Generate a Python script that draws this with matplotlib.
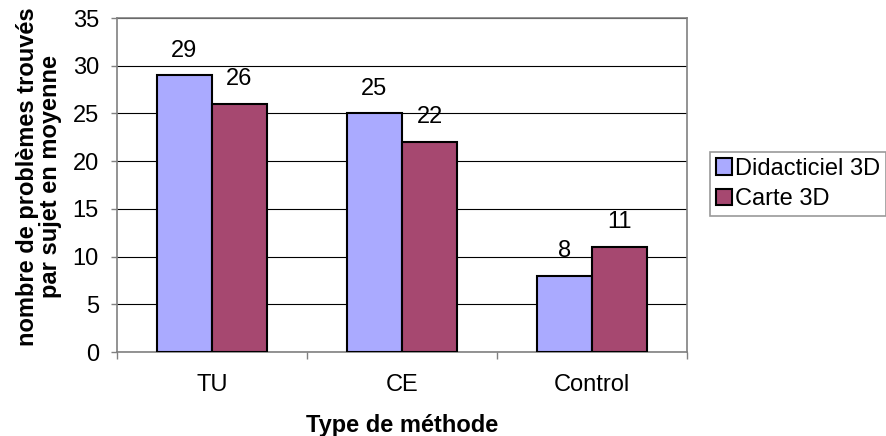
import matplotlib.pyplot as plt
import numpy as np

plt.rcParams['font.family'] = ['Liberation Sans', 'DejaVu Sans']

categories = ['TU', 'CE', 'Control']
didacticiel = [29, 25, 8]
carte = [26, 22, 11]
series_names = ['Didacticiel 3D', 'Carte 3D']

c_blue = '#AAAAFF'
c_red = '#A64870'
fs = 17

fig = plt.figure(figsize=(8.86, 4.36), dpi=100)
ax = fig.add_axes([117 / 886, 1 - 352 / 436, 570 / 886, 334 / 436])

x = np.arange(len(categories))
w = 0.29
b1 = ax.bar(x - w / 2, didacticiel, w, color=c_blue, edgecolor='black', linewidth=1.5, zorder=3)
b2 = ax.bar(x + w / 2, carte, w, color=c_red, edgecolor='black', linewidth=1.5, zorder=3)

for bars, vals in ((b1, didacticiel), (b2, carte)):
    for r, v in zip(bars, vals):
        ax.annotate(str(v), (r.get_x() + r.get_width() / 2, v), xytext=(0, 13.5),
                    textcoords='offset points', ha='center', va='baseline', fontsize=fs)

ax.set_xlim(-0.5, 2.5)
ax.set_ylim(0, 35)
ax.set_yticks(range(0, 36, 5))
ax.yaxis.grid(True, color='black', linewidth=0.8, zorder=0)
ax.set_axisbelow(True)

ax.set_xticks([-0.5, 0.5, 1.5, 2.5])
ax.set_xticklabels([])
ax.set_xticks(x, minor=True)
ax.set_xticklabels(categories, minor=True)
ax.tick_params(axis='x', which='major', length=5, color='#808080', width=1)
ax.tick_params(axis='x', which='minor', length=0, pad=16, labelsize=fs)
ax.tick_params(axis='y', length=4, color='#808080', width=1, labelsize=fs, pad=9)

for s in ax.spines.values():
    s.set_color('#808080')
    s.set_linewidth(1.2)

ax.set_xlabel('Type de méthode', fontsize=fs, fontweight='bold', labelpad=13)
ax.set_ylabel('nombre de problèmes trouvés\npar sujet en moyenne', fontsize=fs,
              fontweight='bold', linespacing=1.0)
ax.yaxis.set_label_coords((62 - 117) / 570, 0.524)

leg = fig.legend([b1, b2], series_names, loc='upper left', bbox_to_anchor=(710 / 886, 1 - 152 / 436),
                 fontsize=fs, frameon=True, fancybox=False, edgecolor='#808080',
                 handlelength=0.7, handleheight=0.7, handletextpad=0.1, borderpad=0.25,
                 labelspacing=0.35, borderaxespad=0)
leg.get_frame().set_linewidth(1.2)

fig.savefig('out.png', dpi=100)
